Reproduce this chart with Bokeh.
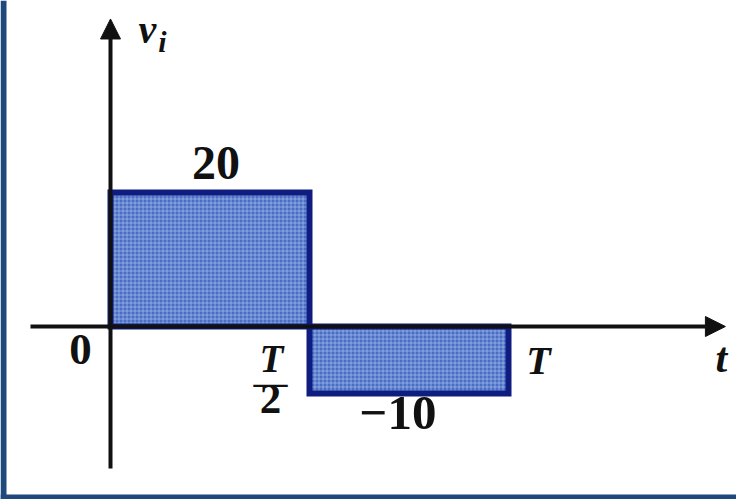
from bokeh.plotting import figure
from bokeh.models import Arrow, NormalHead, Range1d, BoxAnnotation
from bokeh.core.properties import value
from bokeh.embed import file_html
from bokeh.resources import INLINE

# Square-wave input v_i over one period T (T normalised to 1)
t_edges = [0.0, 0.5, 1.0]
levels = [20, -10]
level_labels = ["20", "\u221210"]

SERIF = value("Liberation Serif")
INK = "#111111"
EDGE = "#0f1c80"
FILL = "#4a6ec6"
FRAME = "#1f487c"

# Plot frame fills the whole canvas: 398 px per period, 6.7 px per volt,
# origin at (110, 326) from the top-left corner
p = figure(width=736, height=499, output_backend="svg", toolbar_location=None,
           x_range=Range1d(-110 / 398, 626 / 398),
           y_range=Range1d(-173 / 6.7, 326 / 6.7),
           min_border=0, min_border_left=0, min_border_right=0,
           min_border_top=0, min_border_bottom=0)
p.border_fill_color = "white"
p.background_fill_color = "white"
p.outline_line_color = None
p.axis.visible = False
p.grid.visible = False

# Page frame: blue band along the top and the left edge
p.add_layout(BoxAnnotation(left=0, right=6, top=0, bottom=499,
                           left_units="screen", right_units="screen",
                           top_units="screen", bottom_units="screen",
                           fill_color=FRAME, fill_alpha=1, line_alpha=0))
p.add_layout(BoxAnnotation(left=0, right=736, top=0, bottom=5,
                           left_units="screen", right_units="screen",
                           top_units="screen", bottom_units="screen",
                           fill_color=FRAME, fill_alpha=1, line_alpha=0))

# Axes drawn as arrows through the origin
t_axis = (-0.201, 1.545)
v_axis = (-21.2, 45.9)
p.add_layout(Arrow(x_start=t_axis[0], y_start=0, x_end=t_axis[1], y_end=0,
                   line_width=4, line_color=INK,
                   end=NormalHead(size=20, fill_color=INK, line_color=INK, line_width=1)))
p.add_layout(Arrow(x_start=0, y_start=v_axis[0], x_end=0, y_end=v_axis[1],
                   line_width=4, line_color=INK,
                   end=NormalHead(size=20, fill_color=INK, line_color=INK, line_width=1)))

# The two pulses
p.quad(left=t_edges[:-1], right=t_edges[1:], bottom=[0, 0], top=levels,
       fill_color=FILL, line_color=EDGE, line_width=6, line_join="miter",
       hatch_pattern="cross", hatch_color="#c8d8f6", hatch_alpha=0.5,
       hatch_scale=4, hatch_weight=1)

# Level labels
mids = [(a + b) / 2 for a, b in zip(t_edges[:-1], t_edges[1:])]
p.text(x=[mids[0]], y=[levels[0]], text=[level_labels[0]], text_font=SERIF,
       text_font_style="bold", text_font_size="48px", text_color=INK,
       text_align="center", text_baseline="bottom", y_offset=-14, x_offset=6)
p.text(x=[mids[1]], y=[levels[1]], text=[level_labels[1]], text_font=SERIF,
       text_font_style="bold", text_font_size="49px", text_color=INK,
       text_align="center", text_baseline="top", y_offset=3, x_offset=-11)

# Time tick labels
p.text(x=[t_edges[0]], y=[0], text=["0"], text_font=SERIF, text_font_style="bold",
       text_font_size="45px", text_color=INK, text_align="center",
       text_baseline="top", x_offset=-30, y_offset=8)
p.text(x=[t_edges[1]], y=[0], text=["T"], text_font=SERIF,
       text_font_style="bold italic", text_font_size="39px", text_color=INK,
       text_align="center", text_baseline="top", x_offset=-38, y_offset=10)
p.text(x=[t_edges[1]], y=[0], text=["\u2014"], text_font=SERIF, text_font_style="bold",
       text_font_size="34px", text_color=INK, text_align="center",
       text_baseline="middle", x_offset=-39, y_offset=56)
p.text(x=[t_edges[1]], y=[0], text=["2"], text_font=SERIF, text_font_style="bold",
       text_font_size="43px", text_color=INK, text_align="center",
       text_baseline="top", x_offset=-39, y_offset=58)
p.text(x=[t_edges[2]], y=[0], text=["T"], text_font=SERIF,
       text_font_style="bold italic", text_font_size="40px", text_color=INK,
       text_align="center", text_baseline="top", x_offset=30, y_offset=11)

# Axis names
p.text(x=[t_axis[1]], y=[0], text=["t"], text_font=SERIF,
       text_font_style="bold italic", text_font_size="42px", text_color=INK,
       text_align="center", text_baseline="top", x_offset=-4, y_offset=8)
p.text(x=[0], y=[v_axis[1]], text=["v"], text_font=SERIF,
       text_font_style="bold italic", text_font_size="40px", text_color=INK,
       text_align="center", text_baseline="top", x_offset=37, y_offset=-12)
p.text(x=[0], y=[v_axis[1]], text=["i"], text_font=SERIF,
       text_font_style="bold italic", text_font_size="30px", text_color=INK,
       text_align="center", text_baseline="top", x_offset=52, y_offset=6)

open("out.html", "w").write(file_html(p, INLINE))
